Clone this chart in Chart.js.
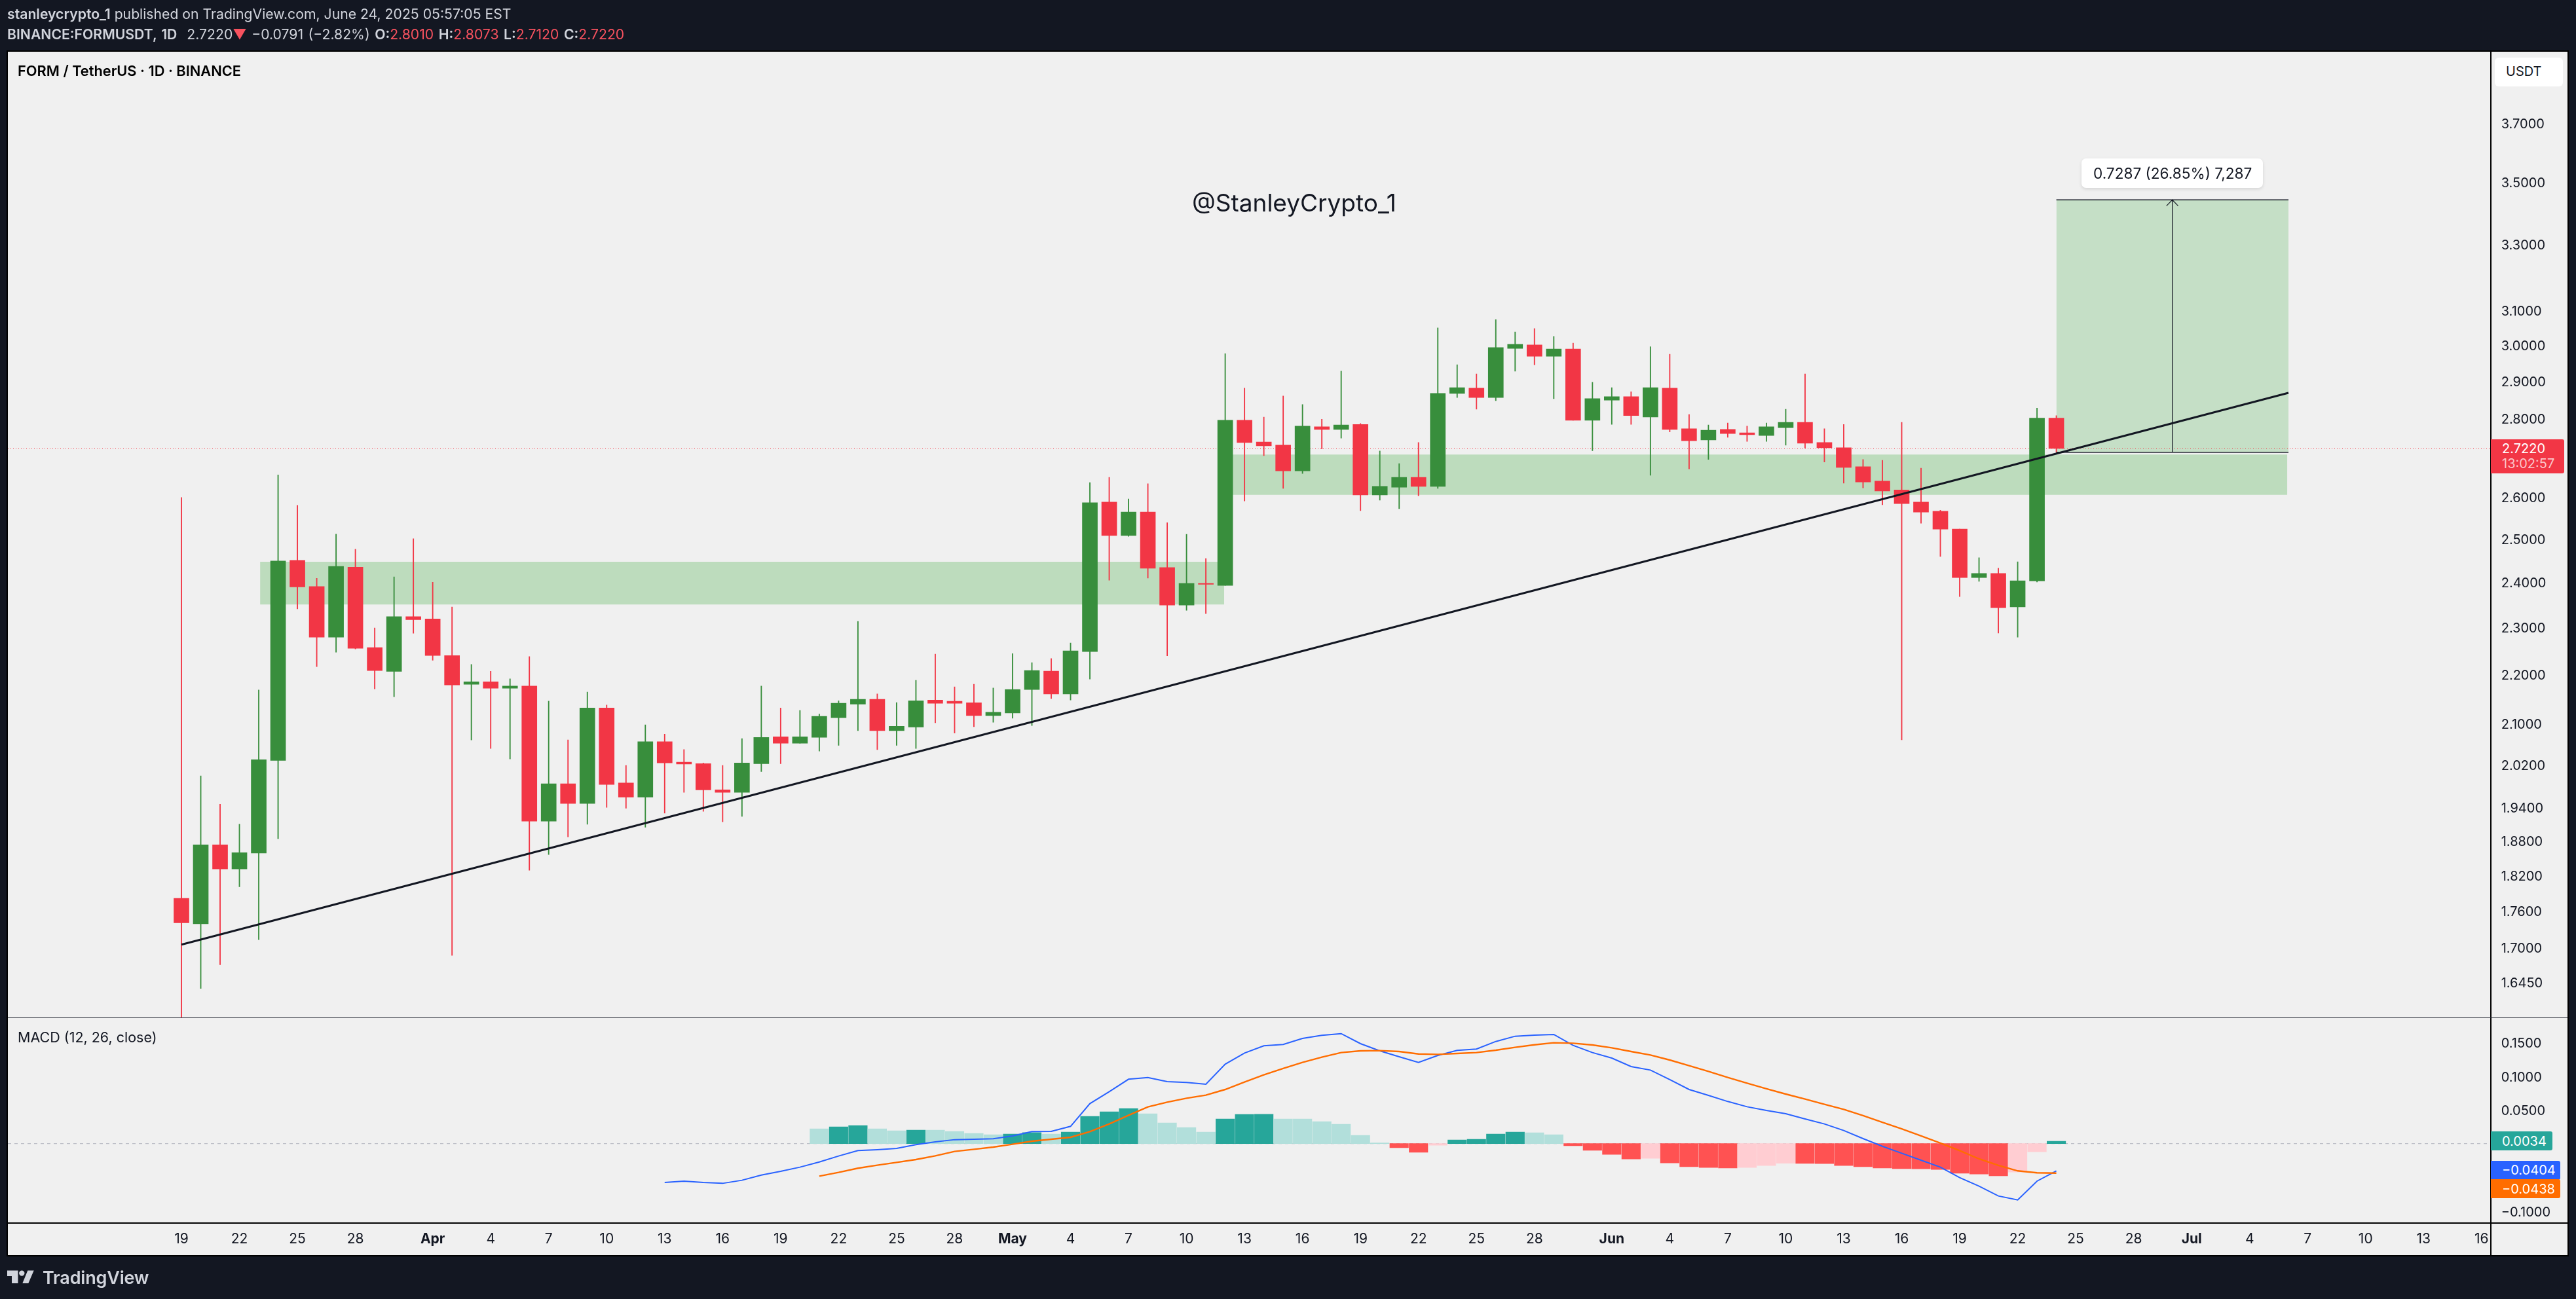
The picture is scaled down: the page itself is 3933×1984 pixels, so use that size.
<!DOCTYPE html>
<html><head><meta charset="utf-8">
<style>
html,body{margin:0;padding:0;background:#131722;width:3933px;height:1984px;overflow:hidden}
#panel{position:absolute;left:12px;top:79px;width:3908px;height:1838px;background:#F0F0F0;box-shadow:0 0 0 2px #000}
canvas{position:absolute;left:0;top:0}
.t{position:absolute;white-space:nowrap;line-height:1;font-family:Inter,"Noto Sans",sans-serif;transform:translateY(-50%)}
.line{position:absolute}
.tag{position:absolute;left:3803px;border-radius:0 3px 3px 0}
.hd{color:#D1D4DC;font-size:21.2px}
.hd b{font-weight:600}
.hd i{font-style:normal;color:#F7525F}
</style></head><body>
<div id="panel"></div>
<canvas id="c" width="3933" height="1984"></canvas>

<div class="line" style="left:3802px;top:79px;width:2px;height:1838px;background:#000"></div>
<div class="line" style="left:12px;top:1553.5px;width:3908px;height:1.5px;background:#2A2E39"></div>
<div class="line" style="left:12px;top:1866.5px;width:3908px;height:2px;background:#000"></div>

<div class="t hd" style="left:11px;top:22px"><b>stanleycrypto_1</b> published on TradingView.com, June 24, 2025 05:57:05 EST</div>
<div class="t hd" style="left:11px;top:53px;word-spacing:1.5px"><b>BINANCE:FORMUSDT, 1D</b>&nbsp; 2.7220<i>▼</i> −0.0791 (−2.82%) <b>O:</b><i>2.8010</i> <b>H:</b><i>2.8073</i> <b>L:</b><i>2.7120</i> <b>C:</b><i>2.7220</i></div>
<div class="t" style="left:27px;top:109px;font-size:21.8px;font-weight:600;color:#000">FORM / TetherUS · 1D · BINANCE</div>
<div class="t" style="left:27px;top:1585px;font-size:21.5px;color:#131722">MACD (12, 26, close)</div>
<div class="t" style="left:1820px;top:309px;font-size:37px;color:#131722">@StanleyCrypto_1</div>

<div style="position:absolute;left:3178px;top:242px;width:277px;height:45px;background:#fff;border-radius:7px;box-shadow:0 2px 5px rgba(0,0,0,.12)"></div>
<div class="t" style="left:3196px;top:265px;font-size:22.6px;color:#131722">0.7287 (26.85%) 7,287</div>

<div style="position:absolute;left:3809px;top:88px;width:104px;height:44px;background:#fff;border-radius:6px"></div>
<div class="t" style="left:3826px;top:109px;font-size:20px;color:#131722">USDT</div>

<div class="tag" style="top:670.5px;width:112px;height:52.5px;background:#F23645"></div>
<div class="t" style="left:3820px;top:685px;font-size:20px;color:#fff">2.7220</div>
<div class="t" style="left:3820px;top:708px;font-size:20px;color:rgba(255,255,255,.72)">13:02:57</div>
<div class="tag" style="top:1728px;width:94px;height:29px;background:#26A69A"></div>
<div class="t" style="left:3820px;top:1742.5px;font-size:20px;color:#fff">0.0034</div>
<div class="tag" style="top:1773px;width:106px;height:28.5px;background:#2962FF"></div>
<div class="t" style="left:3820px;top:1787px;font-size:20px;color:#fff">−0.0404</div>
<div class="tag" style="top:1801px;width:106px;height:29px;background:#FF6D00"></div>
<div class="t" style="left:3820px;top:1815.5px;font-size:20px;color:#fff">−0.0438</div>

<svg style="position:absolute;left:0;top:0" width="80" height="1984" viewBox="0 0 80 1984"><path fill="#D1D4DC" d="M11 1940.6H27.5V1960H18V1949H11Z M42.3 1940.6H51.7L43.3 1960H34.3Z"/><circle fill="#D1D4DC" cx="33.3" cy="1944.6" r="4.2"/></svg>
<div class="t" style="left:65px;top:1951px;font-size:27px;font-weight:600;color:#D1D4DC;letter-spacing:-.2px">TradingView</div>

<script src="https://cdn.jsdelivr.net/npm/chart.js@4/dist/chart.umd.js"></script>
<script>
// ---------- categories (daily candles from Mar 19, 2025) ----------
const dates = ['Mar 19','Mar 20','Mar 21','Mar 22','Mar 23','Mar 24','Mar 25','Mar 26','Mar 27','Mar 28','Mar 29','Mar 30','Mar 31',
'Apr 1','Apr 2','Apr 3','Apr 4','Apr 5','Apr 6','Apr 7','Apr 8','Apr 9','Apr 10','Apr 11','Apr 12','Apr 13','Apr 14','Apr 15','Apr 16','Apr 17','Apr 18','Apr 19','Apr 20','Apr 21','Apr 22','Apr 23','Apr 24','Apr 25','Apr 26','Apr 27','Apr 28','Apr 29','Apr 30',
'May 1','May 2','May 3','May 4','May 5','May 6','May 7','May 8','May 9','May 10','May 11','May 12','May 13','May 14','May 15','May 16','May 17','May 18','May 19','May 20','May 21','May 22','May 23','May 24','May 25','May 26','May 27','May 28','May 29','May 30','May 31',
'Jun 1','Jun 2','Jun 3','Jun 4','Jun 5','Jun 6','Jun 7','Jun 8','Jun 9','Jun 10','Jun 11','Jun 12','Jun 13','Jun 14','Jun 15','Jun 16','Jun 17','Jun 18','Jun 19','Jun 20','Jun 21','Jun 22','Jun 23','Jun 24'];

// ---------- candles ----------
const opens = [1.7807,1.7384,1.8729,1.8309,1.8584,2.0281,2.4492,2.3894,2.2780,2.4335,2.2557,2.2058,2.3224,2.3176,2.2389,2.1791,2.1843,2.1710,2.1754,1.9153,1.9840,1.9474,2.1309,1.9853,1.9592,2.0641,2.0247,2.0219,1.9725,1.9679,2.0219,2.0739,2.0613,2.0726,2.1115,2.1388,2.1483,2.0860,2.0930,2.1468,2.1445,2.1415,2.1157,2.1210,2.1683,2.2063,2.1593,2.2474,2.5874,2.5073,2.5632,2.4325,2.3481,2.3965,2.3919,2.7950,2.7386,2.7302,2.6648,2.7781,2.7712,2.7842,2.6052,2.6240,2.6487,2.6261,2.8668,2.8810,2.8557,2.9911,3.0010,2.9689,2.9894,2.7950,2.8486,2.8581,2.8035,2.8810,2.7727,2.7438,2.7712,2.7621,2.7552,2.7758,2.7896,2.7370,2.7235,2.6752,2.6393,2.6175,2.5874,2.5653,2.5225,2.4098,2.4191,2.3442,2.4024,2.8010];
const highs = [2.5988,1.9987,1.9461,1.9096,2.1673,2.6548,2.5795,2.4081,2.5105,2.4751,2.2981,2.4113,2.4995,2.3991,2.3437,2.2201,2.2058,2.1902,2.2367,2.1446,2.0676,2.1629,2.1367,2.0185,2.0973,2.0789,2.0488,2.0233,2.0185,2.0704,2.1754,2.1309,2.1258,2.1186,2.1454,2.3122,2.1592,2.1418,2.1873,2.2419,2.1736,2.1791,2.1713,2.2431,2.2240,2.2326,2.2655,2.6356,2.6487,2.5952,2.6327,2.5379,2.5100,2.4533,2.9763,2.8810,2.8035,2.8597,2.8369,2.7980,2.9275,2.7865,2.7152,2.6832,2.7370,3.0494,2.9453,2.9202,3.0738,3.0376,3.0477,3.0251,3.0059,2.8970,2.8826,2.8715,2.9960,2.9746,2.8104,2.7827,2.7881,2.7796,2.7881,2.8244,2.9202,2.7727,2.7842,2.6937,2.6914,2.7896,2.6714,2.5675,2.5225,2.4553,2.4311,2.4458,2.8275,2.8073];
const lows = [1.5920,1.6356,1.6726,1.8001,1.7127,1.8837,2.3397,2.2156,2.2458,2.2527,2.1696,2.1535,2.2865,2.2291,1.6874,2.0676,2.0510,2.0308,1.8284,1.8558,1.8869,1.9096,1.9402,1.9388,1.9043,1.9296,1.9679,1.9329,1.9140,1.9238,2.0069,2.0219,2.0613,2.0461,2.0572,2.0860,2.0488,2.0572,2.0510,2.1012,2.0811,2.0937,2.1024,2.1105,2.0960,2.1498,2.1468,2.1899,2.4038,2.5052,2.4085,2.2382,2.3365,2.3294,2.3919,2.5903,2.7033,2.6211,2.6582,2.7205,2.7484,2.5668,2.5923,2.5717,2.6031,2.6211,2.8557,2.8244,2.8471,2.9275,2.9453,2.8526,2.7950,2.7160,2.7842,2.7842,2.6538,2.7644,2.6700,2.6937,2.7506,2.7400,2.7400,2.7302,2.7227,2.6870,2.6342,2.6225,2.5810,2.0680,2.5365,2.4580,2.3670,2.4011,2.2867,2.2779,2.3998,2.7120];
const closes = [1.7402,1.8729,1.8309,1.8590,2.0295,2.4476,2.3886,2.2780,2.4351,2.2542,2.2073,2.3224,2.3161,2.2389,2.1776,2.1843,2.1710,2.1754,1.9153,1.9840,1.9474,2.1309,1.9826,1.9592,2.0641,2.0233,2.0212,1.9725,1.9679,2.0233,2.0726,2.0613,2.0739,2.1143,2.1403,2.1483,2.0860,2.0944,2.1454,2.1404,2.1404,2.1157,2.1222,2.1683,2.2075,2.1593,2.2487,2.5859,2.5073,2.5632,2.4311,2.3481,2.3965,2.3946,2.7950,2.7370,2.7287,2.6648,2.7796,2.7712,2.7827,2.6052,2.6261,2.6487,2.6261,2.8668,2.8826,2.8557,2.9936,3.0026,2.9689,2.9894,2.7950,2.8526,2.8581,2.8074,2.8826,2.7712,2.7415,2.7689,2.7605,2.7575,2.7781,2.7896,2.7355,2.7235,2.6737,2.6371,2.6146,2.5838,2.5632,2.5225,2.4098,2.4191,2.3423,2.4024,2.8010,2.7220];

// ---------- MACD pane ----------
const macdStartDay = 25;
const macdLine = [-.0576,-.0556,-.0576,-.0589,-.0543,-.0466,-.0411,-.0349,-.0272,-.0184,-.0103,-.0090,-.0071,-.0016,.0026,.0059,.0065,.0072,.0114,.0178,.0182,.0256,.0593,.0771,.0955,.0981,.0919,.0907,.0881,.1178,.1343,.1450,.1470,.1560,.1606,.1631,.1483,.1376,.1288,.1204,.1308,.1382,.1402,.1515,.1593,.1609,.1619,.1457,.1350,.1269,.1143,.1091,.0949,.0803,.0716,.0625,.0547,.0492,.0444,.0366,.0292,.0195,.0075,-.0039,-.0142,-.0246,-.0349,-.0505,-.0631,-.0776,-.0835,-.0556,-.0404];
const signalStartDay = 33;
const signalLine = [-.0482,-.0427,-.0365,-.0320,-.0278,-.0236,-.0181,-.0116,-.0084,-.0051,-.0009,.0036,.0065,.0094,.0178,.0292,.0421,.0544,.0615,.0673,.0719,.0803,.0913,.1020,.1114,.1204,.1282,.1350,.1376,.1379,.1366,.1330,.1324,.1337,.1350,.1385,.1428,.1466,.1496,.1489,.1463,.1421,.1366,.1314,.1240,.1156,.1072,.0981,.0897,.0813,.0735,.0661,.0583,.0508,.0415,.0317,.0220,.0114,.0007,-.0103,-.0226,-.0323,-.0404,-.0433,-.0438];
const histStartDay = 33;
const histogram = [.0220,.0249,.0269,.0220,.0191,.0201,.0200,.0181,.0152,.0133,.0142,.0165,.0142,.0172,.0405,.0472,.0521,.0443,.0307,.0239,.0172,.0366,.0434,.0435,.0366,.0366,.0327,.0288,.0123,.0010,-.0061,-.0129,-.0023,.0055,.0065,.0142,.0172,.0162,.0133,-.0032,-.0100,-.0159,-.0227,-.0217,-.0285,-.0343,-.0353,-.0362,-.0353,-.0324,-.0291,-.0294,-.0295,-.0324,-.0343,-.0362,-.0372,-.0373,-.0382,-.0440,-.0450,-.0479,-.0421,-.0120,.0034];

// ---------- tick labels ----------
const priceTicks = [3.7,3.5,3.3,3.1,3.0,2.9,2.8,2.6,2.5,2.4,2.3,2.2,2.1,2.02,1.94,1.88,1.82,1.76,1.70,1.645];
const macdTicks = [.15,.10,.05,-.10];
const tickDays = [0,3,6,9,13,16,19,22,25,28,31,34,37,40,43,46,49,52,55,58,61,64,67,70,74,77,80,83,86,89,92,95,98,101,104,107,110,113,116,119];
const tickLabels = ['19','22','25','28','Apr','4','7','10','13','16','19','22','25','28','May','4','7','10','13','16','19','22','25','28','Jun','4','7','10','13','16','19','22','25','28','Jul','4','7','10','13','16'];

// ---------- drawings (day index, price) ----------
const dayMin = -8.98, dayMax = 119.47;
const priceMin = 1.5915, priceMax = 3.9568;
const macdMin = -.1168, macdMax = .1871;
const lastPrice = 2.722;
const trendDays = [0,109.01], trendPrices = [1.7047,2.8684];
const zoneA = {days:[4.07,53.95], top:2.4458, bottom:2.3494};
const zoneB = {days:[54,108.95], top:2.7063, bottom:2.6052};
const measure = {days:[97,109.01], top:3.4407, bottom:2.712, arrowDay:103, headBase:3.4216, headSpread:.3};

const GREEN='#388E3C', RED='#F23645', FONT='Inter, "Noto Sans", sans-serif';
const days = dates.map((_,i)=>i);
const candleColor = days.map(i=>closes[i]>=opens[i]?GREEN:RED);
const hline = (a,b,v)=>[{x:a,y:v},{x:b,y:v}];
const bandTop = (z,order)=>({type:'line',data:hline(z.days[0],z.days[1],z.top),yAxisID:'y',borderWidth:0,pointRadius:0,fill:'+1',backgroundColor:z.color,order});
const bandBot = (z,order)=>({type:'line',data:hline(z.days[0],z.days[1],z.bottom),yAxisID:'y',borderWidth:0,pointRadius:0,fill:false,order});
zoneA.color='#BDDCBD'; zoneB.color='#BDDCBD'; measure.color='#C5DFC6';

const histColor = histogram.map((v,i)=>{
  const p = i? histogram[i-1] : Infinity;
  return v>=0 ? (v>p?'#26A69A':'#B2DFDB') : (v<p?'#FF5252':'#FFCDD2');
});

const lineDs = (data,color,width,extra)=>Object.assign({type:'line',data,borderColor:color,borderWidth:width,pointRadius:0,fill:false,tension:0},extra);

new Chart(document.getElementById('c'),{
  type:'bar',
  data:{datasets:[
    bandTop(zoneA,40),bandBot(zoneA,40),
    bandTop(zoneB,40),bandBot(zoneB,40),
    bandTop(measure,40),bandBot(measure,40),
    lineDs(hline(dayMin,dayMax,lastPrice),RED,1,{yAxisID:'y',borderDash:[1,3],order:20}),
    lineDs(hline(dayMin,dayMax,0),'#B2B5BE',1,{yAxisID:'yMacd',borderDash:[5,5],order:20}),
    {type:'bar',data:days.map(i=>({x:i,y:[lows[i],highs[i]]})),yAxisID:'y',backgroundColor:candleColor,barThickness:1.2,grouped:false,borderWidth:0,order:10},
    {type:'bar',data:days.map(i=>({x:i,y:[opens[i],closes[i]]})),yAxisID:'y',backgroundColor:candleColor,barThickness:23,grouped:false,borderWidth:0,order:9},
    lineDs(hline(measure.days[0],measure.days[1],measure.top),'#131722',1.5,{yAxisID:'y',order:5}),
    lineDs(hline(measure.days[0],measure.days[1],measure.bottom),'#131722',1.5,{yAxisID:'y',order:5}),
    lineDs([{x:measure.arrowDay,y:measure.bottom},{x:measure.arrowDay,y:measure.top},{x:measure.arrowDay-measure.headSpread,y:measure.headBase},{x:measure.arrowDay,y:measure.top},{x:measure.arrowDay+measure.headSpread,y:measure.headBase}],'#131722',1.2,{yAxisID:'y',order:4}),
    lineDs(trendDays.map((d,i)=>({x:d,y:trendPrices[i]})),'#131722',3,{yAxisID:'y',order:3}),
    {type:'bar',data:histogram.map((v,i)=>({x:i+histStartDay,y:v})),yAxisID:'yMacd',backgroundColor:histColor,barThickness:28.5,grouped:false,borderWidth:0,order:8},
    lineDs(macdLine.map((v,i)=>({x:i+macdStartDay,y:v})),'#2962FF',2,{yAxisID:'yMacd',order:2}),
    lineDs(signalLine.map((v,i)=>({x:i+signalStartDay,y:v})),'#FF6D00',2.4,{yAxisID:'yMacd',order:1}),
  ]},
  options:{
    responsive:false,devicePixelRatio:1,animation:false,events:[],
    layout:{padding:{left:12,top:79,right:13,bottom:67}},
    plugins:{legend:{display:false},tooltip:{enabled:false},title:{display:false}},
    scales:{
      x:{type:'linear',offset:false,min:dayMin,max:dayMax,grid:{display:false,drawTicks:false},border:{display:false},
        afterFit(s){s.height=50;},
        afterBuildTicks(s){s.ticks=tickDays.map(v=>({value:v}));},
        ticks:{autoSkip:false,maxRotation:0,padding:13,color:'#131722',
          callback(v){return tickLabels[tickDays.indexOf(v)];},
          font(ctx){const l=ctx.tick&&ctx.tick.label;return {family:FONT,size:21,weight:/[A-Za-z]/.test(l||'')?'700':'400'};}
        }},
      y:{type:'logarithmic',position:'right',min:priceMin,max:priceMax,stack:'panes',stackWeight:1475,
        grid:{display:false,drawTicks:false},border:{display:false},
        afterFit(s){s.width=117.3;},
        afterBuildTicks(s){s.ticks=priceTicks.map(v=>({value:v}));},
        ticks:{autoSkip:false,padding:16,labelOffset:2,crossAlign:'near',color:'#131722',font:{family:FONT,size:20},
          callback(v){return Number(v).toFixed(4);}}},
      yMacd:{type:'linear',position:'right',min:macdMin,max:macdMax,stack:'panes',stackWeight:313,
        grid:{display:false,drawTicks:false},border:{display:false},
        afterFit(s){s.width=117.3;},
        afterBuildTicks(s){s.ticks=macdTicks.map(v=>({value:v}));},
        ticks:{autoSkip:false,padding:16,labelOffset:2,crossAlign:'near',color:'#131722',font:{family:FONT,size:20},
          callback(v){return Number(v).toFixed(4).replace('-','−');}}}
    }
  }
});
</script>
</body></html>
